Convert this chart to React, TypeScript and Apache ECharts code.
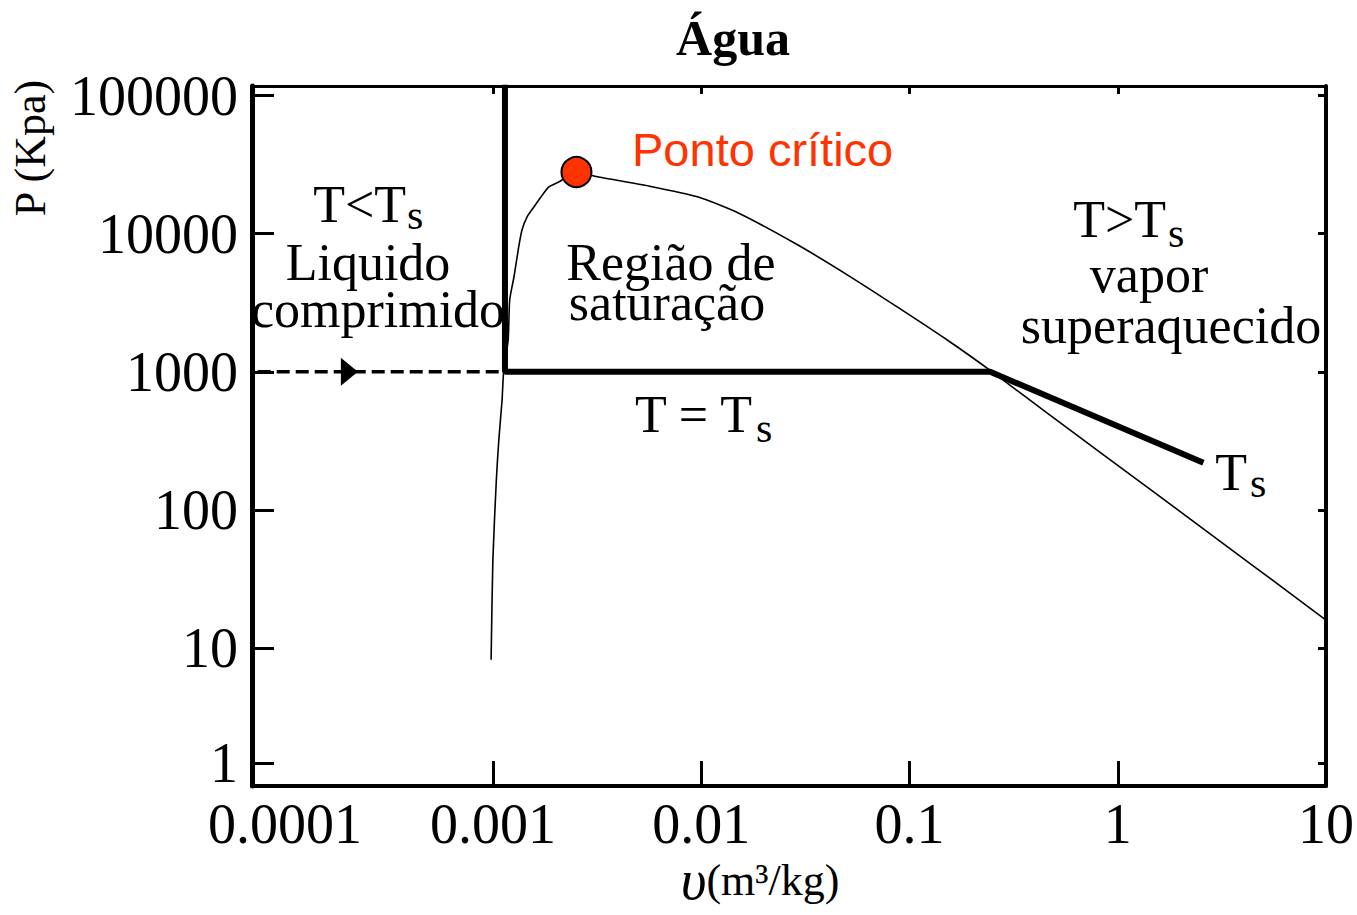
import React, { useEffect, useRef } from "react";
import * as echarts from "echarts";

// Axis ticks (specific volume in m3/kg, pressure in kPa)
const xTickValues = [0.0001, 0.001, 0.01, 0.1, 1, 10];
const xTickLabels = ["0.0001", "0.001", "0.01", "0.1", "1", "10"];
// the "1" tick is drawn slightly above the axis bottom in the original figure
const yTickValues = [1.47, 10, 100, 1000, 10000, 100000];
const yTickLabels = ["1", "10", "100", "1000", "10000", "100000"];
const vRange = [0.0000695, 10];
const pRange = [1, 117500];

// saturation dome: liquid branch -> critical point -> vapor branch
const domeV = [0.000978, 0.000997, 0.001036, 0.001065, 0.001104, 0.001123, 0.001181, 0.001201, 0.001259, 0.001327, 0.001376, 0.001454, 0.00157, 0.001697, 0.001852, 0.002066, 0.002513, 0.003208, 0.005581, 0.009672, 0.01505, 0.02911, 0.05042, 0.08758, 0.1517, 0.2497, 0.4569, 1.537, 4.62, 10];
const domeP = [8.2, 43, 164, 321, 625, 1000, 1700, 3310, 4860, 8020, 10640, 13210, 15630, 18450, 21830, 23710, 27990, 25760, 22180, 18450, 14130, 8280, 5020, 2940, 1700, 998, 504, 130, 37.9, 15.9];

// isotherm T = Ts (thick line)
const isoV = [0.00114, 0.00114, 0.2438, 0.6576, 2.578];
const isoP = [120000, 1000, 1000, 528, 219];

// compressed liquid path (dashed) and its arrow
const compV = [0.00006, 0.00114];
const compP = [1000, 1000];
const arrowV = [0.000204];
const arrowP = [1000];

// critical point
const critV = [0.002513];
const critP = [27990];

const L = (v: number) => Math.log10(v);
const SERIF = "'Liberation Serif', 'Times New Roman', serif";
const SANS = "'Liberation Sans', Arial, sans-serif";

const fmt = (ticks: number[], labels: string[]) => (val: number) => {
  const i = ticks.findIndex((t) => Math.abs(L(t) - val) < 1e-6);
  return i >= 0 ? labels[i] : "";
};

const txt = (text: string, x: number, baseline: number, size: number, extra: any = {}) => ({
  type: "text",
  x,
  y: baseline - 0.34 * size,
  silent: true,
  style: {
    text,
    fontSize: size,
    lineHeight: Math.round(size * 0.8),
    fontFamily: SERIF,
    fill: "#000",
    align: "center",
    verticalAlign: "middle",
    ...extra,
  },
});

export default function App() {
  const ref = useRef<HTMLDivElement>(null);
  useEffect(() => {
    if (!ref.current) return;
    const chart = echarts.init(ref.current, null, { renderer: "svg" });
    const xMin = L(vRange[0]);
    const xMax = L(vRange[1]);
    const yMin = L(pRange[0]);
    const yMax = L(pRange[1]);
    const innerX = xTickValues.slice(1, 5).map(L);
    const yTicks = yTickValues.map(L);
    const axisLine = (w: number) => ({ show: true, onZero: false, lineStyle: { color: "#000", width: w } });
    chart.setOption({
      animation: false,
      backgroundColor: "#fff",
      grid: { left: 252, right: 27, top: 86, bottom: 129, show: false },
      xAxis: [
        {
          type: "value",
          min: xMin,
          max: xMax,
          position: "bottom",
          axisLine: axisLine(4),
          axisTick: { show: true, inside: true, length: 25, lineStyle: { color: "#000", width: 3 }, customValues: innerX },
          axisLabel: {
            show: true,
            customValues: xTickValues.map(L),
            formatter: fmt(xTickValues, xTickLabels),
            margin: 10,
            color: "#000",
            fontFamily: SERIF,
            fontSize: 56,
          },
          splitLine: { show: false },
        },
        {
          type: "value",
          min: xMin,
          max: xMax,
          position: "top",
          axisLine: axisLine(3),
          axisTick: { show: true, inside: true, length: 8, lineStyle: { color: "#000", width: 3 }, customValues: innerX },
          axisLabel: { show: false },
          splitLine: { show: false },
        },
      ],
      yAxis: [
        {
          type: "value",
          min: yMin,
          max: yMax,
          position: "left",
          axisLine: axisLine(5),
          axisTick: { show: true, inside: true, length: 22, lineStyle: { color: "#000", width: 3 }, customValues: yTicks },
          axisLabel: {
            show: true,
            customValues: yTicks,
            formatter: fmt(yTickValues, yTickLabels),
            margin: 14,
            color: "#000",
            fontFamily: SERIF,
            fontSize: 56,
          },
          splitLine: { show: false },
        },
        {
          type: "value",
          min: yMin,
          max: yMax,
          position: "right",
          axisLine: axisLine(4),
          axisTick: { show: true, inside: true, length: 8, lineStyle: { color: "#000", width: 3 }, customValues: yTicks },
          axisLabel: { show: false },
          splitLine: { show: false },
        },
      ],
      series: [
        {
          type: "line",
          data: domeV.map((v, i) => [L(v), L(domeP[i])]),
          symbol: "none",
          smooth: 0.2,
          lineStyle: { color: "#000", width: 1.6 },
          z: 2,
          silent: true,
        },
        {
          type: "line",
          data: compV.map((v, i) => [L(v), L(compP[i])]),
          symbol: "none",
          lineStyle: { color: "#000", width: 3.5, type: [13, 6] },
          z: 2,
          silent: true,
        },
        {
          type: "line",
          data: isoV.map((v, i) => [L(v), L(isoP[i])]),
          symbol: "none",
          lineStyle: { color: "#000", width: 6 },
          z: 3,
          silent: true,
        },
        {
          type: "scatter",
          data: arrowV.map((v, i) => [L(v), L(arrowP[i])]),
          symbol: "triangle",
          symbolRotate: -90,
          symbolSize: [28, 17],
          itemStyle: { color: "#000", opacity: 1 },
          z: 4,
          silent: true,
        },
        {
          type: "scatter",
          data: critV.map((v, i) => [L(v), L(critP[i])]),
          symbol: "circle",
          symbolSize: 30,
          itemStyle: { color: "#ff3300", borderColor: "#000", borderWidth: 2, opacity: 1 },
          z: 5,
          silent: true,
        },
      ],
      graphic: [
        txt("Água", 733, 55, 50, { fontWeight: "bold" }),
        {
          type: "text",
          x: 30,
          y: 148,
          rotation: Math.PI / 2,
          silent: true,
          style: { text: "P (Kpa)", fontSize: 44, lineHeight: 36, fontFamily: SERIF, fill: "#000", align: "center", verticalAlign: "middle" },
        },
        {
          type: "text",
          x: 760,
          y: 880,
          silent: true,
          style: {
            text: "{v|υ}(m³/kg)",
            fontSize: 44,
            lineHeight: 40,
            fontFamily: SERIF,
            fill: "#000",
            align: "center",
            verticalAlign: "middle",
            rich: { v: { fontSize: 56, lineHeight: 40, fontStyle: "italic", fontFamily: SERIF, fill: "#000" } },
          },
        },
        txt("T<T", 406, 222, 52, { align: "right" }),
        txt("s", 407, 229, 42, { align: "left" }),
        txt("Liquido", 368, 280, 52),
        txt("comprimido", 378, 327, 52),
        txt("Região de", 671, 280, 52),
        txt("saturação", 667, 320, 52),
        txt("T = T", 752, 432, 52, { align: "right" }),
        txt("s", 756, 442, 42, { align: "left" }),
        txt("T>T", 1166, 237, 52, { align: "right" }),
        txt("s", 1168, 247, 42, { align: "left" }),
        txt("vapor", 1149, 292, 52),
        txt("superaquecido", 1171, 343, 52),
        txt("T", 1247, 490, 52, { align: "right" }),
        txt("s", 1250, 497, 42, { align: "left" }),
        {
          type: "text",
          x: 632,
          y: 149,
          silent: true,
          style: { text: "Ponto crítico", fontSize: 47, lineHeight: 40, fontFamily: SANS, fill: "#ff3300", align: "left", verticalAlign: "middle" },
        },
      ],
    });
    return () => chart.dispose();
  }, []);
  return (
    <div
      ref={ref}
      style={{ position: "absolute", left: 0, top: 0, width: 1357, height: 915, background: "#fff" }}
    />
  );
}
